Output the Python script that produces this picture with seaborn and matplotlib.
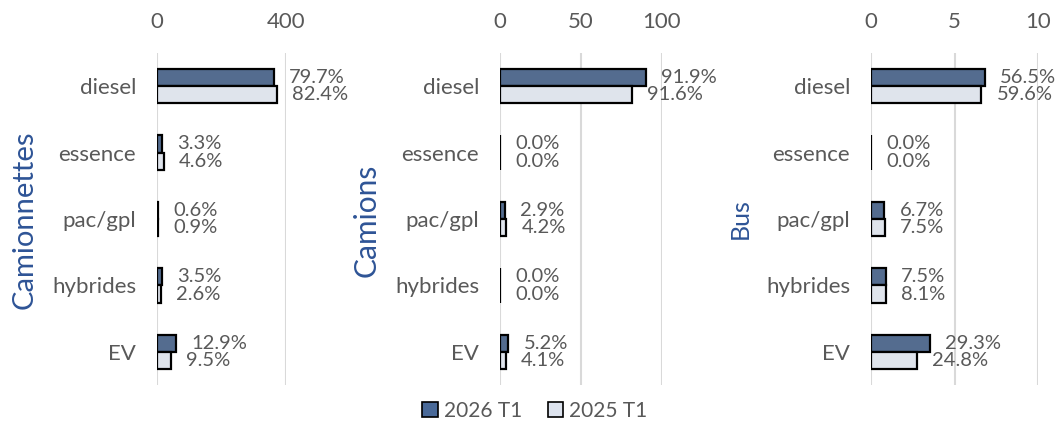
import seaborn as sns
import matplotlib.pyplot as plt
import pandas as pd
import numpy as np
from matplotlib.patches import Patch

#========================= data =========================#
categories = ['diesel', 'essence', 'pac/gpl', 'hybrides', 'EV']
periods = ['2026 T1', '2025 T1']

camionnettes_2026 = [363, 15, 3, 16, 59]
camionnettes_2025 = [371, 21, 4, 12, 43]
camionnettes_pct_2026 = ['79.7%', '3.3%', '0.6%', '3.5%', '12.9%']
camionnettes_pct_2025 = ['82.4%', '4.6%', '0.9%', '2.6%', '9.5%']

camions_2026 = [90, 0, 2.9, 0, 5.1]
camions_2025 = [81.5, 0, 3.7, 0, 3.6]
camions_pct_2026 = ['91.9%', '0.0%', '2.9%', '0.0%', '5.2%']
camions_pct_2025 = ['91.6%', '0.0%', '4.2%', '0.0%', '4.1%']

bus_2026 = [6.8, 0, 0.8, 0.9, 3.53]
bus_2025 = [6.6, 0, 0.83, 0.9, 2.75]
bus_pct_2026 = ['56.5%', '0.0%', '6.7%', '7.5%', '29.3%']
bus_pct_2025 = ['59.6%', '0.0%', '7.5%', '8.1%', '24.8%']

xticks_camionnettes = [0, 400]
xticks_camions = [0, 50, 100]
xticks_bus = [0, 5, 10]

#========================= style =========================#
sns.set_style('white')
plt.rcParams['font.family'] = ['Lato', 'DejaVu Sans']

dark = '#4A6A99'
light = '#DDE3EE'
grey_txt = '#595959'
grid_c = '#D9D9D9'
title_c = '#2E5496'

W, H = 1056, 423
fig = plt.figure(figsize=(W / 100, H / 100), dpi=100)

def px_axes(left, right, top, bottom):
    return fig.add_axes([left / W, 1 - bottom / H, (right - left) / W, (bottom - top) / H])

panels = [
    (camionnettes_2026, camionnettes_2025, camionnettes_pct_2026, camionnettes_pct_2025, xticks_camionnettes, (157, 286)),
    (camions_2026, camions_2025, camions_pct_2026, camions_pct_2025, xticks_camions, (500, 662)),
    (bus_2026, bus_2025, bus_pct_2026, bus_pct_2025, xticks_bus, (871, 1038)),
]

for v26, v25, p26, p25, ticks, (l, r) in panels:
    ax = px_axes(l, r, 53, 385)
    df = pd.DataFrame({
        'cat': categories * 2,
        'val': v26 + v25,
        'period': [periods[0]] * 5 + [periods[1]] * 5,
    })
    sns.barplot(data=df, x='val', y='cat', hue='period', hue_order=periods, order=categories,
                palette=[dark, light], orient='h', width=0.52, gap=0, ax=ax,
                edgecolor='black', linewidth=1.6, legend=False, zorder=3)
    for cont, labs in zip(ax.containers, [p26, p25]):
        ax.bar_label(cont, labels=labs, padding=11, fontsize=14.5, color=grey_txt)
    ax.set_xlim(ticks[0], ticks[-1])
    ax.set_xticks(ticks)
    ax.xaxis.tick_top()
    ax.tick_params(axis='x', length=0, pad=15, labelsize=16, labelcolor=grey_txt)
    ax.tick_params(axis='y', length=0, pad=15, labelsize=16, labelcolor=grey_txt)
    ax.grid(axis='x', color=grid_c, lw=1.5, zorder=0)
    ax.set_axisbelow(True)
    ax.set_xlabel('')
    ax.set_ylabel('')
    for sp in ax.spines.values():
        sp.set_visible(False)

# panel titles
fig.text(25 / W, 1 - 220 / H, 'Camionnettes', rotation=90, ha='center', va='center', fontsize=21, color=title_c)
fig.text(367 / W, 1 - 220 / H, 'Camions', rotation=90, ha='center', va='center', fontsize=21.5, color=title_c)
fig.text(740 / W, 1 - 219 / H, 'Bus', rotation=90, ha='center', va='center', fontsize=18, color=title_c)

handles = [Patch(facecolor=dark, edgecolor='black', lw=1.2), Patch(facecolor=light, edgecolor='black', lw=1.2)]
fig.legend(handles, periods, loc='center', bbox_to_anchor=(535 / W, 1 - 411 / H), ncol=2, frameon=False,
           fontsize=15, labelcolor=grey_txt, handlelength=0.75, handleheight=0.75, handletextpad=0.3, columnspacing=1.2)

fig.savefig('out.png', dpi=100)
